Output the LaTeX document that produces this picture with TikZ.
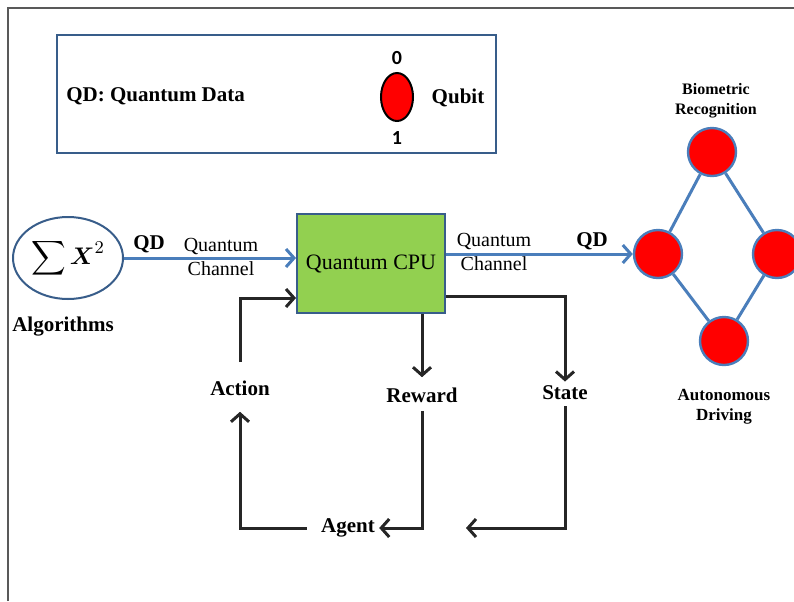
\documentclass[tikz,border=0pt]{standalone}
\usepackage{amsmath}
\usepackage{fontspec}
\setmainfont{Liberation Serif}
\newfontfamily\digitfont{Carlito}
\usetikzlibrary{arrows.meta,positioning,shapes.geometric}

\definecolor{chanblue}{RGB}{74,126,187}
\definecolor{edgeblue}{RGB}{56,93,138}
\definecolor{cpugreen}{RGB}{146,208,80}
\definecolor{qubitred}{RGB}{255,0,0}

\begin{document}
\begin{tikzpicture}[x=0.5pt,y=-0.5pt,
    qubitstyle/.style={circle,draw=chanblue,line width=1.2pt,fill=qubitred,minimum size=24pt,inner sep=0pt},
    chanarrow/.style={chanblue,line width=1.5pt,-{Straight Barb[length=4pt,width=9pt]}},
    looparrow/.style={black!85,line width=1.5pt,-{Straight Barb[length=4pt,width=9pt]}},
    lbl/.style={font=\bfseries\fontsize{10.5}{12}\selectfont,inner sep=0pt},
    chantext/.style={font=\fontsize{10}{12}\selectfont,align=center,inner sep=0pt},
    smalllbl/.style={font=\bfseries\fontsize{8}{10}\selectfont,align=center,inner sep=0pt}]

    \useasboundingbox (0,0) rectangle (794,601);

    % frame ↓
    \draw[black!65,line width=1pt] (8,601) -- (8,8) -- (794,8);

    % legend ↓
    \node[draw=edgeblue,line width=1.2pt,minimum width=219.5pt,minimum height=59pt] (legend) at (276.5,94) {};
    \node[lbl,anchor=west] (qdtext) at (66,96) {QD: Quantum Data};
    \node[ellipse,draw=black,line width=1pt,fill=qubitred,minimum width=16pt,minimum height=24pt,inner sep=0pt] (qubit) at (397,97) {};
    \node[font=\digitfont\bfseries\fontsize{10}{12}\selectfont,inner sep=0pt] (zero) at (397,58) {0};
    \node[font=\digitfont\bfseries\fontsize{10}{12}\selectfont,inner sep=0pt] (one) at (397,138) {1};
    \node[lbl] (qubittext) at (458,98) {Qubit};

    % algorithms and cpu ↓
    \node[ellipse,draw=edgeblue,line width=1pt,minimum width=55pt,minimum height=41pt,inner sep=0pt] (alg) at (68,258)
        {\fontsize{13}{15}\selectfont$\displaystyle\sum \boldsymbol{X}^{2}$};
    \node[lbl] (algtext) at (63,327) {Algorithms};
    \node[draw=edgeblue,line width=1pt,fill=cpugreen,minimum width=74pt,minimum height=49.5pt,inner sep=0pt,
        font=\fontsize{11}{13}\selectfont] (cpu) at (371,263.5) {Quantum CPU};

    % network ↓
    \node[qubitstyle] (bio) at (712,152) {};
    \node[qubitstyle] (nl) at (658,254) {};
    \node[qubitstyle] (nr) at (777,254) {};
    \node[qubitstyle] (auto) at (724,341) {};
    \foreach \a/\b in {bio/nl,bio/nr,nl/auto,nr/auto}
        \draw[chanblue,line width=1.5pt] (\a) -- (\b);
    \node[smalllbl] (biotext) at (716,101) {Biometric\\Recognition};
    \node[smalllbl,font=\bfseries\fontsize{8.5}{10}\selectfont] (autotext) at (724,407) {Autonomous\\Driving};

    % quantum channels ↓
    \draw[chanarrow] (alg.east) -- (alg.east -| cpu.west);
    \node[lbl] (qdin) at (149,244) {QD};
    \node[chantext] (chanin) at (221,257) {Quantum\\Channel};
    \draw[chanarrow] (nl.west -| cpu.east) -- (nl.west);
    \node[chantext] (chanout) at (494,252) {Quantum\\Channel};
    \node[lbl] (qdout) at (592,241) {QD};

    % learning loop ↓
    \node[lbl] (action) at (240,388) {Action};
    \node[lbl] (reward) at (422,395) {Reward};
    \node[lbl] (state) at (565,393) {State};
    \node[lbl] (agent) at (348,528) {Agent};
    \coordinate (statein) at (466,528);

    \draw[looparrow,shorten <=9pt] (action.north) |- ([yshift=8pt]cpu.south west);
    \draw[looparrow,shorten >=5pt] (cpu.south -| reward.north) -- (reward.north);
    \draw[looparrow,shorten >=2pt] ([yshift=9pt]cpu.south east) -| (state.north);
    \draw[looparrow,shorten <=4pt,shorten >=2pt] (reward.south) |- (agent.east);
    \draw[looparrow,shorten <=3pt] (state.south) |- (statein);
    \draw[looparrow,shorten <=7pt,shorten >=8pt] (agent.west) -| (action.south);

\end{tikzpicture}
\end{document}
